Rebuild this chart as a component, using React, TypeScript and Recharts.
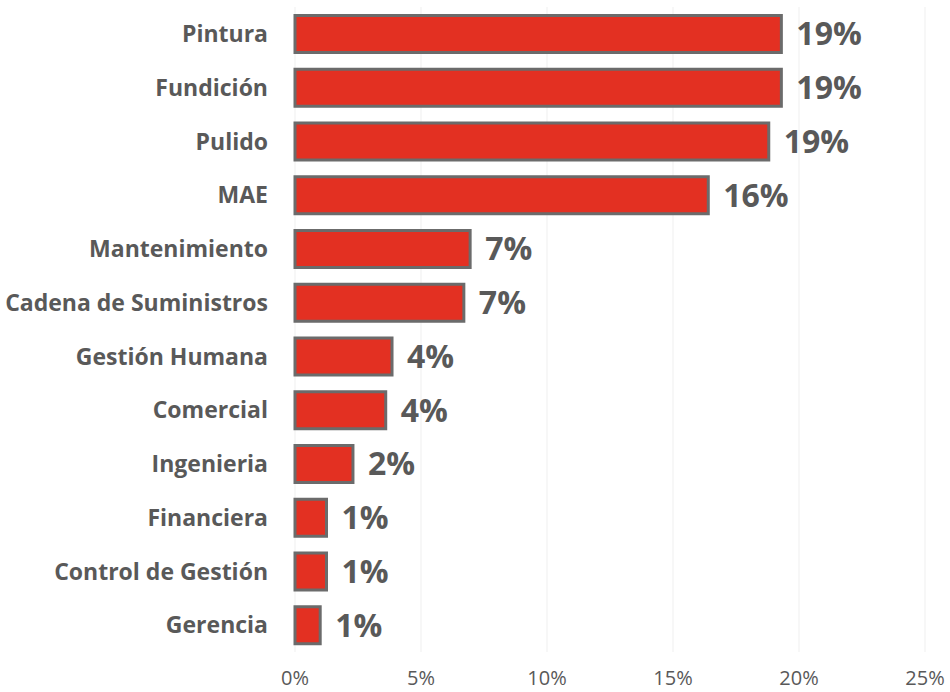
import React from "react";
import { BarChart, Bar, XAxis, YAxis, CartesianGrid, LabelList } from "recharts";

const categories = [
  "Pintura",
  "Fundición",
  "Pulido",
  "MAE",
  "Mantenimiento",
  "Cadena de Suministros",
  "Gestión Humana",
  "Comercial",
  "Ingenieria",
  "Financiera",
  "Control de Gestión",
  "Gerencia",
];
const values = [19.3, 19.3, 18.8, 16.4, 6.95, 6.7, 3.85, 3.6, 2.3, 1.25, 1.25, 1.0];
const xTicks = [0, 5, 10, 15, 20, 25];

const data = categories.map((name, i) => ({ name, value: values[i] }));

const FONT = "'Open Sans', 'DejaVu Sans', sans-serif";
const GRAY = "#595959";

export default function App() {
  return (
    <div style={{ position: "absolute", left: 0, top: 0, width: 950, height: 692, background: "#fff" }}>
      <BarChart
        width={950}
        height={692}
        data={data}
        layout="vertical"
        margin={{ top: 7, right: 25, left: 0, bottom: 0 }}
        barCategoryGap="16%"
      >
        <CartesianGrid horizontal={false} stroke="#efefef" strokeWidth={1} />
        <XAxis
          type="number"
          domain={[0, 25]}
          ticks={xTicks}
          tickFormatter={(v: number) => `${v}%`}
          axisLine={false}
          tickLine={false}
          tickSize={0}
          tickMargin={19}
          height={40}
          tick={{ fill: GRAY, fontSize: 20, fontFamily: FONT }}
          interval={0}
        />
        <YAxis
          type="category"
          dataKey="name"
          width={295}
          axisLine={false}
          tickLine={false}
          tickSize={0}
          tickMargin={27}
          interval={0}
          tick={{ fill: GRAY, fontSize: 23, fontWeight: 700, fontFamily: FONT }}
        />
        <Bar dataKey="value" fill="#E33022" stroke="#6b6b6b" strokeWidth={3} isAnimationActive={false}>
          <LabelList
            dataKey="value"
            position="right"
            offset={15}
            formatter={(v: number) => `${Math.round(v)}%`}
            style={{ fill: GRAY, fontSize: 32, fontWeight: 700, fontFamily: FONT }}
          />
        </Bar>
      </BarChart>
    </div>
  );
}
